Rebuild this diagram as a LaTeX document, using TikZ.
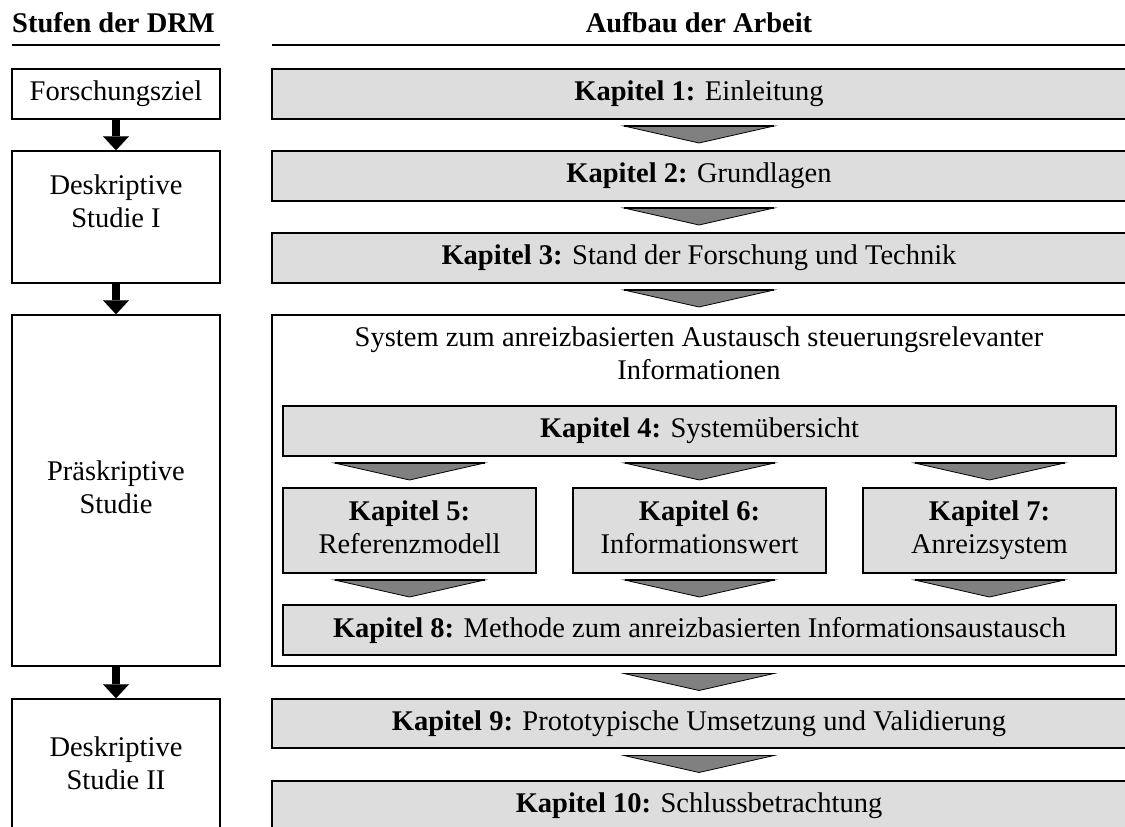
\documentclass[tikz,border=0pt]{standalone}
\usepackage{fontspec}
\setmainfont{Liberation Serif}
\usetikzlibrary{arrows.meta,calc}

\definecolor{boxgray}{HTML}{DDDDDD}
\definecolor{chevgray}{HTML}{808080}

% grey chevron between two boxes; #3 gives the horizontal position
\newcommand\chev[3]{%
  \path ($(#1.south)!0.5!(#2.north)$) coordinate (cy);
  \path (#3 |- cy) coordinate (cm);
  \filldraw[chevron] ($(cm)+(-75,-9)$) -- ($(cm)+(75,-9)$) -- ($(cm)+(0,8)$) -- cycle;
  \draw[chevtop] ($(cm)+(-75,-9)$) -- ($(cm)+(75,-9)$);
}

\begin{document}
\begin{tikzpicture}[x=1pt,y=-1pt,
  every node/.style={font=\fontsize{28.5}{33}\selectfont, inner sep=0pt, align=center},
  head/.style={font=\fontsize{28.5}{33}\selectfont\bfseries},
  rule/.style={line width=1.8pt},
  stage/.style={draw, line width=1.5pt, fill=white, minimum width=208pt},
  chapter/.style={draw, line width=1.5pt, fill=boxgray},
  frame/.style={draw, line width=1.5pt, fill=white},
  stagearrow/.style={line width=8pt, -{Triangle[width=26pt,length=14pt,line width=0.1pt]}},
  chevron/.style={fill=chevgray, draw=black, line width=0.8pt, line join=miter},
  chevtop/.style={line width=1.6pt, line cap=butt},
]
\useasboundingbox (0,0) rectangle (1125,827);
\clip (0,0) rectangle (1125,827);

% column headings
\node[head, anchor=base west] (hleft) at (12,32) {Stufen der DRM};
\node[head, anchor=base] (hright) at (699,32) {Aufbau der Arbeit};
\draw[rule] (12,45) -- (220,45);
\draw[rule] (272,45) -- (1127,45);

% stages of the DRM
\node[stage, minimum height=50pt] (fz) at (116,94) {Forschungsziel};
\node[stage, minimum height=132pt] (ds1) at (116,217) {};
\node (ds1t) at (116,204) {Deskriptive\strut\\Studie I\strut};
\node[stage, minimum height=351pt] (ps) at (116,490.5) {Präskriptive\strut\\Studie\strut};
\node[stage, minimum height=134pt] (ds2) at (116,766) {Deskriptive\strut\\Studie II\strut};

\draw[stagearrow] (fz.south) -- (ds1.north);
\draw[stagearrow] (ds1.south) -- (ps.north);
\draw[stagearrow] (ps.south) -- (ds2.north);

% chapters
\node[chapter, minimum width=854pt, minimum height=50pt] (k1) at (699,94) {\textbf{Kapitel 1:} Einleitung};
\node[chapter, minimum width=854pt, minimum height=50pt] (k2) at (699,176) {\textbf{Kapitel 2:} Grundlagen};
\node[chapter, minimum width=854pt, minimum height=50pt] (k3) at (699,258) {\textbf{Kapitel 3:} Stand der Forschung und Technik};

\node[frame, minimum width=854pt, minimum height=351pt] (sys) at (699,490.5) {};
\node (syst) at (699,356) {System zum anreizbasierten Austausch steuerungsrelevanter\strut\\Informationen\strut};

\node[chapter, minimum width=833pt, minimum height=50pt] (k4) at (699.5,431) {\textbf{Kapitel 4:} Systemübersicht};
\node[chapter, minimum width=253pt, minimum height=85pt] (k5) at (409.5,530.5) {\textbf{Kapitel 5:}\strut\\Referenzmodell\strut};
\node[chapter, minimum width=253pt, minimum height=85pt] (k6) at (699.5,530.5) {\textbf{Kapitel 6:}\strut\\Informationswert\strut};
\node[chapter, minimum width=253pt, minimum height=85pt] (k7) at (989.5,530.5) {\textbf{Kapitel 7:}\strut\\Anreizsystem\strut};
\node[chapter, minimum width=833pt, minimum height=50pt] (k8) at (699.5,630) {\textbf{Kapitel 8:} Methode zum anreizbasierten Informationsaustausch};

\node[chapter, minimum width=854pt, minimum height=49pt] (k9) at (699,723.5) {\textbf{Kapitel 9:} Prototypische Umsetzung und Validierung};
\node[chapter, minimum width=854pt, minimum height=49pt] (k10) at (699,805.5) {\textbf{Kapitel 10:} Schlussbetrachtung};

% flow between chapters
\chev{k1}{k2}{k1}
\chev{k2}{k3}{k2}
\chev{k3}{sys}{k3}
\chev{k4}{k5}{k5}
\chev{k4}{k6}{k6}
\chev{k4}{k7}{k7}
\chev{k5}{k8}{k5}
\chev{k6}{k8}{k6}
\chev{k7}{k8}{k7}
\chev{sys}{k9}{sys}
\chev{k9}{k10}{k9}
\end{tikzpicture}
\end{document}
